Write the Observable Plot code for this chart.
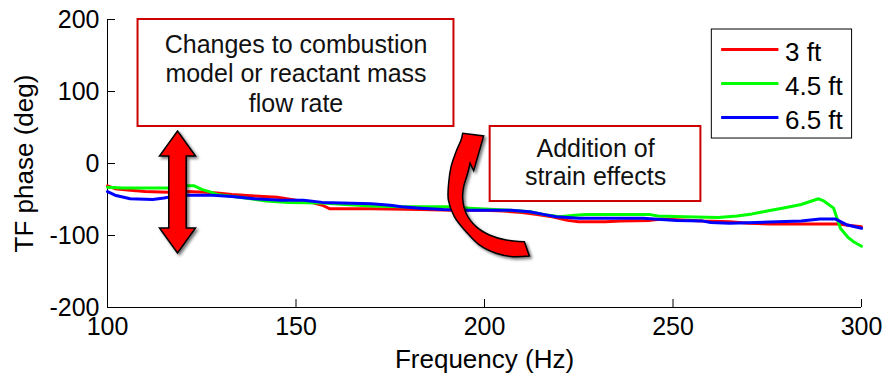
<!DOCTYPE html>
<html>
<head>
<meta charset="utf-8">
<script src="https://cdn.jsdelivr.net/npm/d3@7"></script>
<script src="https://cdn.jsdelivr.net/npm/@observablehq/plot@0.6"></script>
<style>
  html, body { margin: 0; padding: 0; background: #fff; }
  #chart { width: 886px; height: 374px; }
</style>
</head>
<body>
<div id="chart"></div>
<script>
// ---- data ----
const seriesNames = ["3 ft", "4.5 ft", "6.5 ft"];
const seriesColors = ["#ff0000", "#00ff00", "#0000ff"];

const freq3 = [100,102,106,110,116,121,126,129,133,139,145,150,154,157,159,170,183,192,200,205,210,214,218,222,225,232,236,244,247,251,258,265,270,276,294,297,300];
const phase3 = [-31,-35,-37,-39,-40,-39,-40,-41,-43,-45,-47,-51,-54,-58,-63,-63,-64,-65,-65,-66,-68,-71,-74,-79,-81,-81,-80,-79,-77,-78,-80,-81,-83,-84,-84,-86,-88];

const freq45 = [100,104,116,121,123,125,127,129,135,142,148,157,163,170,178,190,196,207,212,216,220,224,227,244,246,253,262,267,271,275,280,284,288.6,290,292.6,294.4,296.5,298,300];
const phase45 = [-33,-34,-34,-31,-31,-36,-39,-43,-47,-52,-54,-55,-57,-59,-60,-60,-62,-65,-67,-71,-74,-72,-71,-71,-73,-74,-75,-73,-70,-66,-61,-57,-49,-52,-62,-90,-103,-109,-115];

const freq65 = [100,102,106,112,115,117,121,128,133,139,146,152,157,162,170,175,178,183,189,195,207,212,216,219,225,242,248,251,258,260,265,272,284,289,293,296,300];
const phase65 = [-39,-44,-49,-50,-48,-46,-44,-44,-46,-49,-51,-51,-54,-55,-56,-58,-60,-62,-64,-65,-65,-67,-71,-74,-76,-76,-78,-79,-80,-82,-83,-82,-80,-77,-77,-85,-90];

const xTicks = [100, 150, 200, 250, 300];
const yTicks = [-200, -100, 0, 100, 200];
const xLabel = "Frequency (Hz)";
const yLabel = "TF phase (deg)";

// annotation texts and boxes (data units)
const noteTexts = ["Changes to combustion\nmodel or reactant mass\nflow rate", "Addition of\nstrain effects"];
const noteX1 = [108.1, 201.5];
const noteX2 = [191.9, 257.4];
const noteY1 = [51.4, -52.8];
const noteY2 = [200, 51.4];

// legend box (data units)
const legendX = [260.3, 297.5];
const legendY = [34.7, 186.1];
const legendLineX = [262.9, 278.1];
const legendRowY = [158.3, 111.1, 63.9];
const legendTextX = 279.7;

// arrow anchors (data units)
const doubleArrowAnchor = [118.7, -40.3];
const curvedArrowAnchor = [205.4, -44.4];

// ---- build table ----
const table = [];
[[freq3, phase3], [freq45, phase45], [freq65, phase65]].forEach(([fs, ps], k) => {
  fs.forEach((f, i) => table.push({series: seriesNames[k], f, v: ps[i]}));
});

const W = 886, H = 374;
const mL = 107, mR = 25, mT = 19, mB = 67;
const innerW = W - mL - mR, innerH = H - mT - mB;
const xDom = [100, 300], yDom = [-200, 200];
const tickPx = 8;
const tickLenX = tickPx * (xDom[1] - xDom[0]) / innerW;
const tickLenY = tickPx * (yDom[1] - yDom[0]) / innerH;

const font = "'Liberation Sans', Arial, Helvetica, sans-serif";

const notes = noteTexts.map((t, i) => ({
  text: t, x1: noteX1[i], x2: noteX2[i], y1: noteY1[i], y2: noteY2[i],
  cx: (noteX1[i] + noteX2[i]) / 2, cy: (noteY1[i] + noteY2[i]) / 2
}));
const legendRows = seriesNames.map((s, i) => ({series: s, y: legendRowY[i]}));

const chart = Plot.plot({
  width: W, height: H,
  marginLeft: mL, marginRight: mR, marginTop: mT, marginBottom: mB,
  style: {fontFamily: font, fontSize: "25px", color: "black", background: "white", overflow: "visible"},
  x: {domain: xDom, label: null, axis: null},
  y: {domain: yDom, label: null, axis: null},
  color: {domain: seriesNames, range: seriesColors},
  marks: [
    // axes lines
    Plot.ruleX([xDom[0]], {y1: yDom[0], y2: yDom[1], stroke: "black", strokeWidth: 1}),
    Plot.ruleY([yDom[0]], {x1: xDom[0], x2: xDom[1], stroke: "black", strokeWidth: 1}),
    // inward ticks
    Plot.ruleX(xTicks, {x: d => d, y1: yDom[0], y2: yDom[0] + tickLenY, stroke: "black"}),
    Plot.ruleY(yTicks, {y: d => d, x1: xDom[0], x2: xDom[0] + tickLenX, stroke: "black"}),
    // tick labels
    Plot.axisX({ticks: xTicks, tickSize: 0, tickPadding: 10, fontSize: 25, label: null, tickFormat: d => String(d)}),
    Plot.axisY({ticks: yTicks, tickSize: 0, tickPadding: 8, fontSize: 25, label: null, tickFormat: d => String(d)}),
    // axis titles
    Plot.text([yLabel], {text: d => d, frameAnchor: "left", textAnchor: "middle", rotate: -90, dx: -75, lineAnchor: "bottom", fontSize: 26, fill: "black"}),
    Plot.text([xLabel], {text: d => d, frameAnchor: "bottom", textAnchor: "middle", dy: 60, lineAnchor: "bottom", fontSize: 26, fill: "black"}),
    // data lines
    Plot.line(table, {x: "f", y: "v", stroke: "series", z: "series", strokeWidth: 3, strokeLinejoin: "round"}),
    // annotation boxes
    Plot.rect(notes, {x1: "x1", x2: "x2", y1: "y1", y2: "y2", fill: "white", stroke: "#cc0000", strokeWidth: 2}),
    Plot.text(notes.slice(0, 1), {x: "cx", y: "cy", text: "text", lineHeight: 1.18, fontSize: 25, fill: "#111", lineAnchor: "middle"}),
    Plot.text(notes.slice(1), {x: "cx", y: "cy", text: "text", lineHeight: 1.12, fontSize: 25, fill: "#111", lineAnchor: "middle", dy: -2}),
    // legend
    Plot.rect([0], {x1: legendX[0], x2: legendX[1], y1: legendY[0], y2: legendY[1], fill: "white", stroke: "black", strokeWidth: 1}),
    Plot.ruleY(legendRows, {y: "y", x1: legendLineX[0], x2: legendLineX[1], stroke: "series", strokeWidth: 3}),
    Plot.text(legendRows, {x: legendTextX, y: "y", text: "series", textAnchor: "start", fontSize: 26, fill: "black", dy: 3})
  ]
});

document.getElementById("chart").appendChild(chart);

// ---- arrows drawn with the plot's own scales ----
const sx = chart.scale("x"), sy = chart.scale("y");
const svg = d3.select(chart);
const defs = svg.append("defs");
const filt = defs.append("filter").attr("id", "shadow").attr("x", "-30%").attr("y", "-30%").attr("width", "160%").attr("height", "160%");
filt.append("feDropShadow").attr("dx", 2).attr("dy", 2).attr("stdDeviation", 1.6).attr("flood-color", "#000").attr("flood-opacity", 0.55);

// double vertical arrow (pixel offsets around anchor)
{
  const ax = sx.apply(doubleArrowAnchor[0]), ay = sy.apply(doubleArrowAnchor[1]);
  const pts = [[0,-61],[18,-36],[8.7,-36],[8.7,36],[18,36],[0,61],[-18,36],[-8.7,36],[-8.7,-36],[-18,-36]];
  svg.append("path")
    .attr("d", "M" + pts.map(p => [ax + p[0], ay + p[1]].join(",")).join("L") + "Z")
    .attr("fill", "#ff0000").attr("stroke", "#000").attr("stroke-width", 1.5)
    .attr("stroke-linejoin", "miter").attr("filter", "url(#shadow)");
}

// curved arrow
{
  const ax = sx.apply(curvedArrowAnchor[0]), ay = sy.apply(curvedArrowAnchor[1]);
  const outer = [[25,61],[8.3,61.7],[-8.3,58.3],[-25,50],[-38.3,36.7],[-50,21.7],[-56,5],[-55.7,-11.7],[-53.3,-28.3],[-48.3,-43.3],[-43.3,-55],[-41.7,-61.7]];
  const head = [[-20.7,-59],[-30.7,-24.3],[-34.3,-31.7]];
  const inner = [[-34.3,-31.7],[-36.7,-21.7],[-40.7,-8.3],[-41.7,3.3],[-38.3,18.3],[-28.3,31.7],[-15,40],[1.7,45],[20,46.7]];
  const tr = p => [ax + p[0], ay + p[1]];
  const cr = d3.line().curve(d3.curveCatmullRom.alpha(0.5));
  const dOuter = cr(outer.map(tr));
  const dHead = head.map(p => "L" + tr(p).join(",")).join("");
  const dInner = cr(inner.map(tr)).replace(/^M/, "L");
  svg.append("path")
    .attr("d", dOuter + dHead + dInner + "Z")
    .attr("fill", "#ff0000").attr("stroke", "#000").attr("stroke-width", 1.5)
    .attr("stroke-linejoin", "miter").attr("filter", "url(#shadow)");
}
</script>
</body>
</html>
